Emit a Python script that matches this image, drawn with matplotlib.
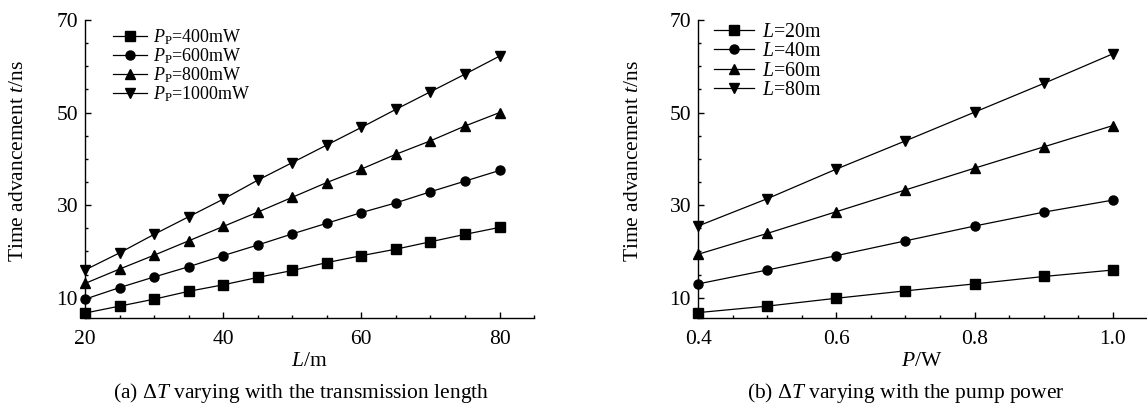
import numpy as np
import matplotlib
matplotlib.use("Agg")
from matplotlib import pyplot as plt
from matplotlib.ticker import MultipleLocator

plt.rcParams['font.family'] = ['Liberation Serif', 'DejaVu Serif']
plt.rcParams['mathtext.fontset'] = 'custom'
plt.rcParams['mathtext.rm'] = 'Liberation Serif'
plt.rcParams['mathtext.it'] = 'Liberation Serif:italic'

# (a) delay vs length
length_m = [20, 25, 30, 35, 40, 45, 50, 55, 60, 65, 70, 75, 80]
pp_400 = [6.7, 8.2, 9.7, 11.4, 12.8, 14.4, 15.9, 17.6, 19.1, 20.5, 22.1, 23.7, 25.2]
pp_600 = [9.7, 12.2, 14.5, 16.7, 19.1, 21.4, 23.8, 26.1, 28.4, 30.5, 32.9, 35.2, 37.5]
pp_800 = [13.1, 16.2, 19.2, 22.3, 25.4, 28.5, 31.7, 34.9, 37.8, 41.0, 43.9, 47.1, 50.0]
pp_1000 = [16.0, 19.7, 23.7, 27.5, 31.3, 35.4, 39.2, 43.0, 46.8, 50.7, 54.5, 58.3, 62.2]
labels_a = [r'$\mathit{P}_{\mathrm{P}}$=400mW', r'$\mathit{P}_{\mathrm{P}}$=600mW',
            r'$\mathit{P}_{\mathrm{P}}$=800mW', r'$\mathit{P}_{\mathrm{P}}$=1000mW']

# (b) delay vs pump power
power_w = [0.4, 0.5, 0.6, 0.7, 0.8, 0.9, 1.0]
l_20 = [6.8, 8.2, 9.9, 11.5, 13.0, 14.6, 16.0]
l_40 = [13.0, 16.0, 19.1, 22.3, 25.5, 28.5, 31.1]
l_60 = [19.4, 23.9, 28.6, 33.3, 38.0, 42.6, 47.2]
l_80 = [25.5, 31.4, 37.8, 43.9, 50.1, 56.3, 62.7]
labels_b = [r'$\mathit{L}$=20m', r'$\mathit{L}$=40m', r'$\mathit{L}$=60m', r'$\mathit{L}$=80m']

markers = ['s', 'o', '^', 'v']

fig = plt.figure(figsize=(11.47, 4.11), dpi=100)
ax1 = fig.add_axes([0.0741, 0.227, 0.3915, 0.7243])
ax2 = fig.add_axes([0.6086, 0.227, 0.3906, 0.7243])


def style(ax, label_x):
    for s in ['top', 'right']:
        ax.spines[s].set_visible(False)
    for s in ['left', 'bottom']:
        ax.spines[s].set_linewidth(1.0)
    ax.tick_params(which='both', direction='in', labelsize=15.5, width=1.0)
    ax.tick_params(which='major', length=4.5)
    ax.tick_params(which='minor', length=2.5)
    ax.tick_params(axis='x', which='major', pad=9)
    ax.tick_params(axis='y', which='major', pad=5)
    ax.set_ylim(5.7, 70)
    ax.yaxis.set_minor_locator(MultipleLocator(5))
    ax.set_yticks([10, 30, 50, 70])
    ax.set_ylabel(r'Time advancement $\mathit{t}$/ns', fontsize=15.5)
    ax.yaxis.set_label_coords(label_x, 0.525)


for ys, m, lab in zip([pp_400, pp_600, pp_800, pp_1000], markers, labels_a):
    ax1.plot(length_m, ys, color='black', lw=0.9, marker=m, markersize=6.5, label=lab, clip_on=False)
style(ax1, -0.127)
ax1.set_xlim(20, 85)
ax1.xaxis.set_minor_locator(MultipleLocator(5))
ax1.set_xticks([20, 40, 60, 80])
ax1.set_xlabel(r'$\mathit{L}$/m', fontsize=15.5, labelpad=2)
ax1.legend(loc='upper left', bbox_to_anchor=(0.062, 0.975), frameon=False, fontsize=13,
           handlelength=1.9, handletextpad=0.33, labelspacing=-0.05, borderpad=0,
           borderaxespad=0)

for ys, m, lab in zip([l_20, l_40, l_60, l_80], markers, labels_b):
    ax2.plot(power_w, ys, color='black', lw=0.9, marker=m, markersize=6.5, label=lab, clip_on=False)
style(ax2, -0.124)
ax2.set_xlim(0.4, 1.048)
ax2.xaxis.set_minor_locator(MultipleLocator(0.05))
ax2.set_xticks([0.4, 0.6, 0.8, 1.0])
ax2.set_xticklabels(['0.4', '0.6', '0.8', '1.0'])
ax2.set_xlabel(r'$\mathit{P}$/W', fontsize=15.5, labelpad=2)
ax2.legend(loc='upper left', bbox_to_anchor=(0.036, 0.99), frameon=False, fontsize=14.3,
           handlelength=2.0, handletextpad=0.4, labelspacing=0.02, borderpad=0,
           borderaxespad=0)

fig.text(0.2624, 0.044, r'(a) $\Delta\mathit{T}$ varying with the transmission length',
         ha='center', va='center', fontsize=15.5)
fig.text(0.790, 0.044, r'(b) $\Delta\mathit{T}$ varying with the pump power',
         ha='center', va='center', fontsize=15.5)

fig.savefig('out.png', dpi=100)
